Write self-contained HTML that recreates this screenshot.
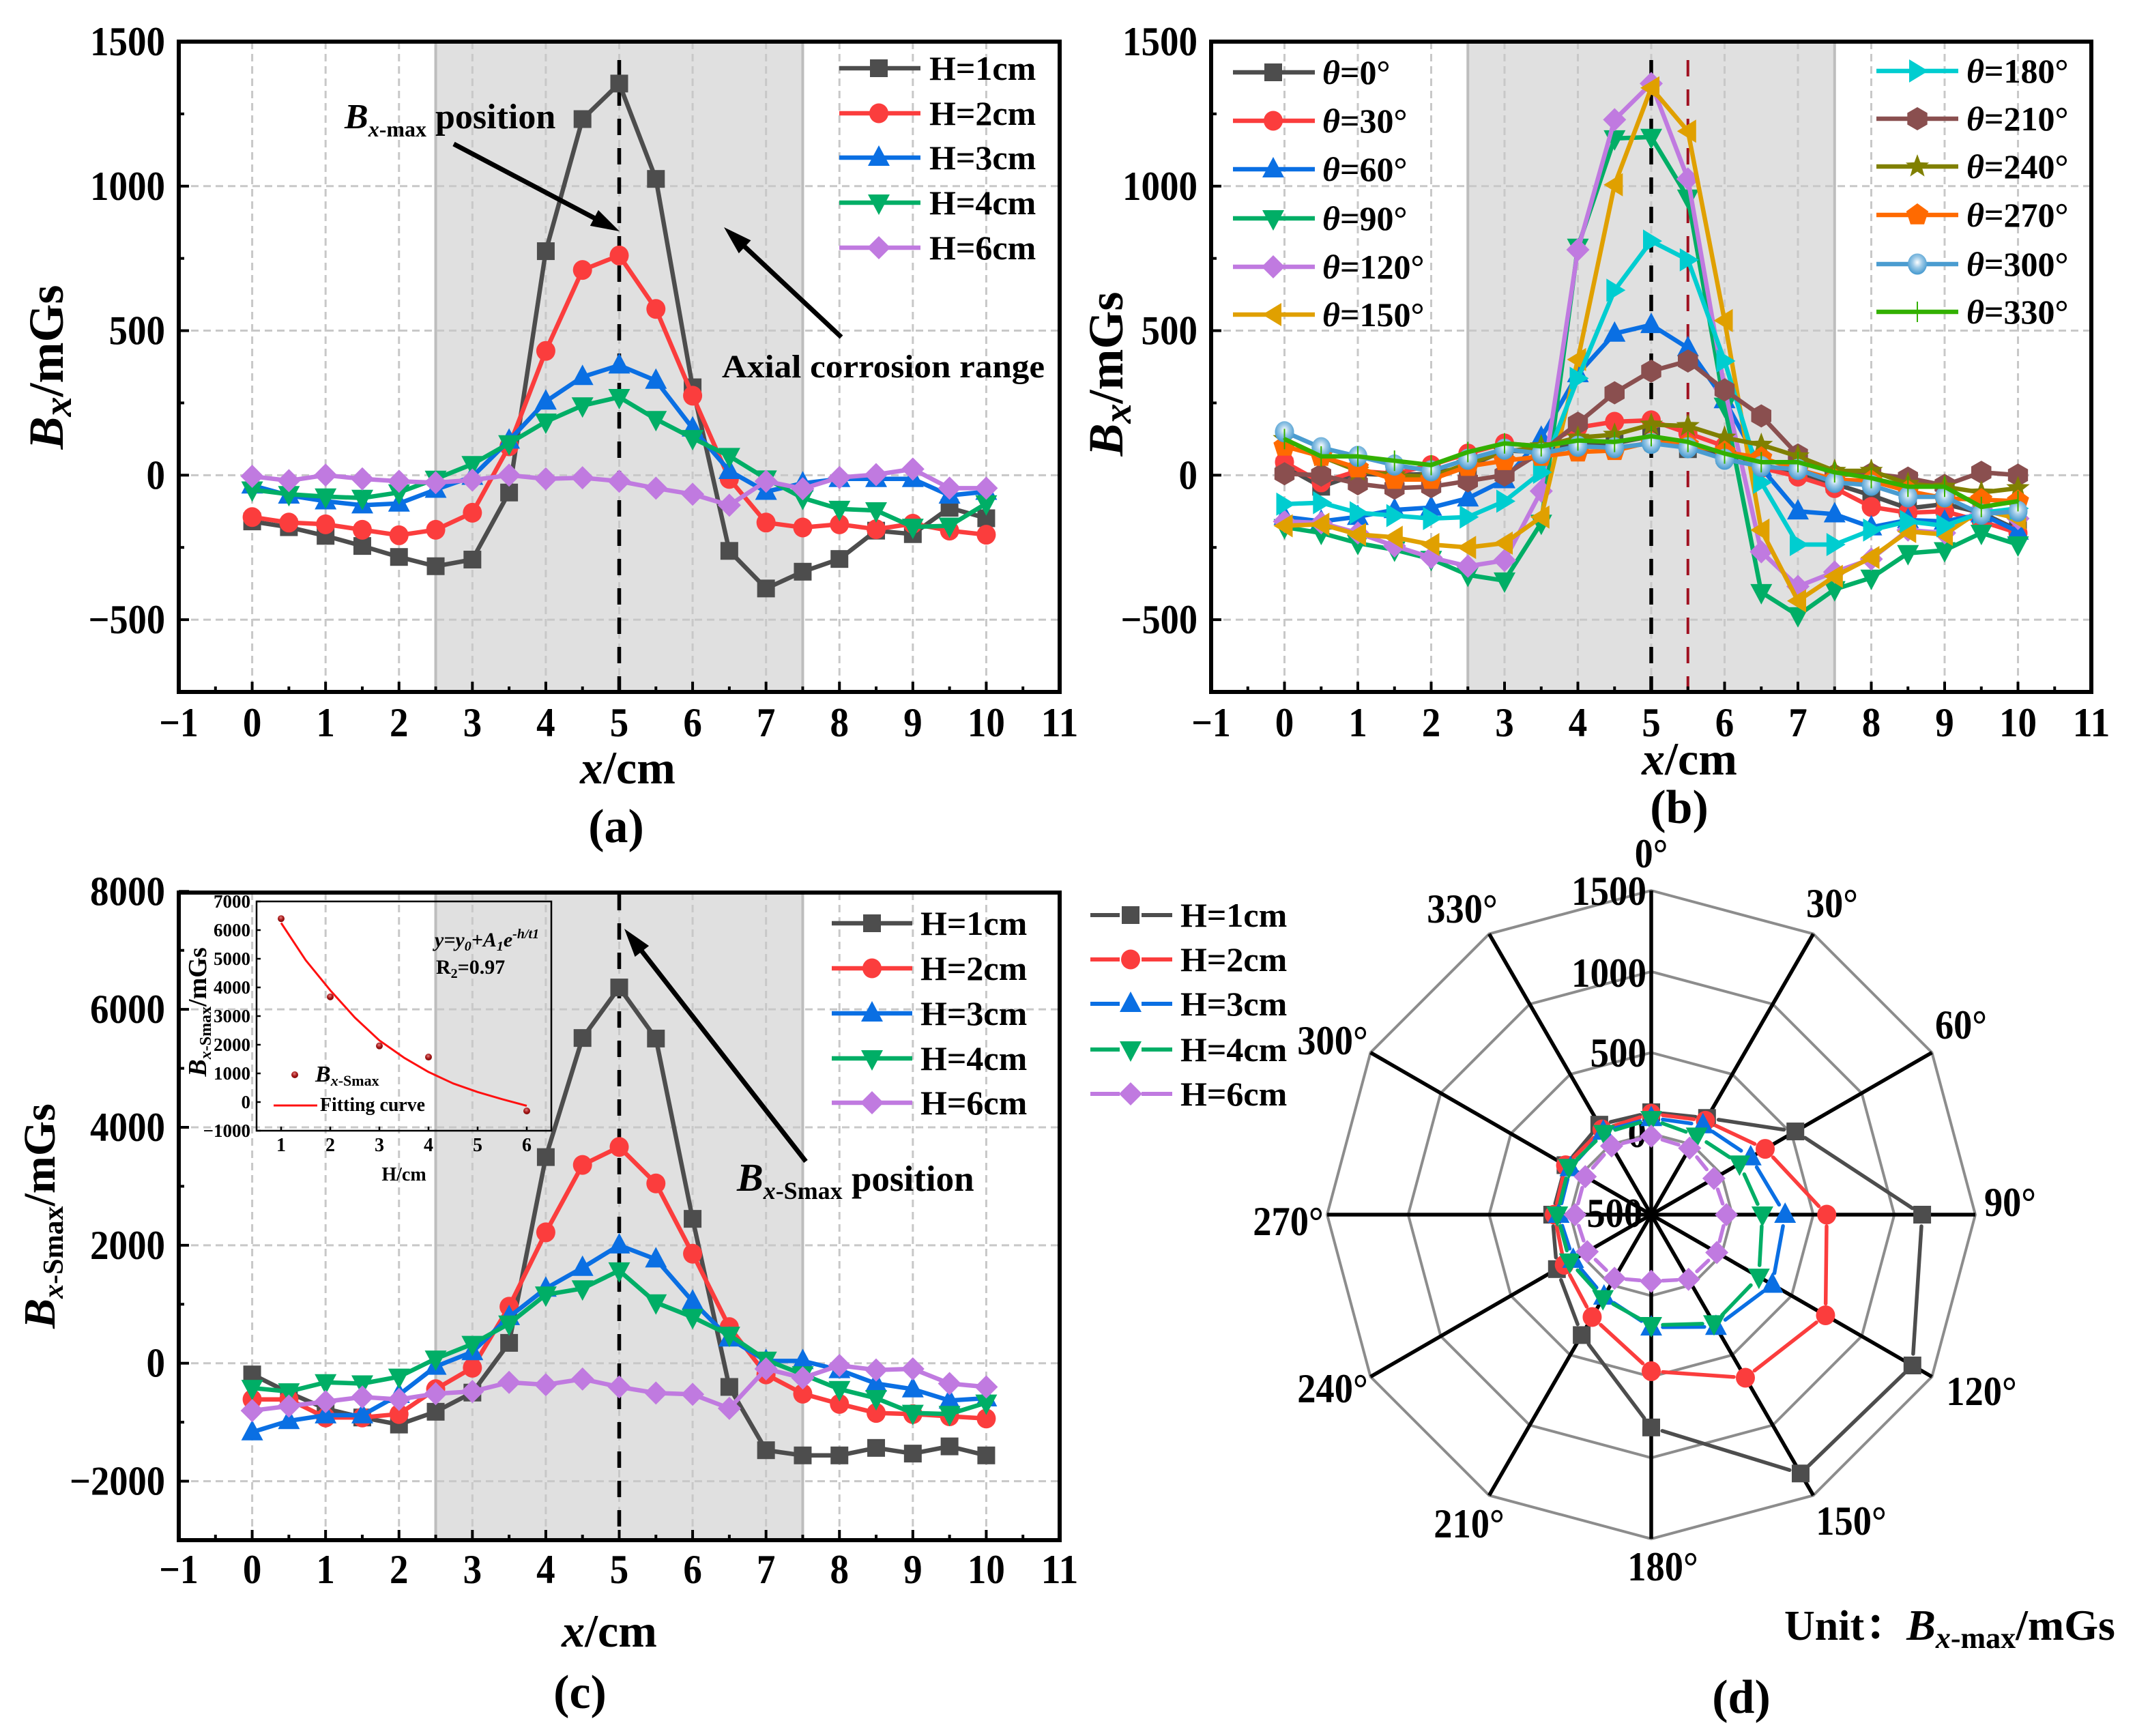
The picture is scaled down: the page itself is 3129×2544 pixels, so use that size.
<!DOCTYPE html>
<html lang="en">
<head>
<meta charset="utf-8">
<title>Magnetic flux density charts</title>
<style>
html,body{margin:0;padding:0;background:#fff;}
svg{display:block;}
text{font-family:"Liberation Serif","Noto Serif CJK SC",serif;font-weight:bold;fill:#000;}
.i{font-style:italic;}
</style>
</head>
<body>
<svg id="figure" xmlns="http://www.w3.org/2000/svg" width="3129" height="2544" viewBox="0 0 3129 2544">
<defs>
<radialGradient id="ball" cx="50%" cy="42%" r="55%"><stop offset="0" stop-color="#ffffff"/><stop offset="0.45" stop-color="#9fcbe8"/><stop offset="1" stop-color="#4a9cd0"/></radialGradient>
<radialGradient id="ball2" cx="45%" cy="35%" r="60%"><stop offset="0" stop-color="#e08080"/><stop offset="0.6" stop-color="#a81818"/><stop offset="1" stop-color="#800808"/></radialGradient>
</defs>
<g id="panel-a"></g>
<g id="panel-b"></g>
<g id="panel-c"></g>
<g id="panel-d"></g>

<g id="static-labels">
  <!-- panel a -->
  <text transform="translate(92 538) rotate(-90)" text-anchor="middle" font-size="72"><tspan class="i">B</tspan><tspan class="i" font-size="58" dy="12">x</tspan><tspan dy="-12">/mGs</tspan></text>
  <text x="920" y="1148" text-anchor="middle" font-size="68"><tspan class="i">x</tspan>/cm</text>
  <text x="903" y="1234" text-anchor="middle" font-size="70">(a)</text>
  <text x="505" y="188" font-size="52"><tspan class="i">B</tspan><tspan class="i" font-size="32" dy="12">x</tspan><tspan font-size="32">-max</tspan><tspan dy="-12"> position</tspan></text>
  <text x="1058" y="553" font-size="48" textLength="473" lengthAdjust="spacingAndGlyphs">Axial corrosion range</text>
  <!-- panel b -->
  <text transform="translate(1645 548) rotate(-90)" text-anchor="middle" font-size="72"><tspan class="i">B</tspan><tspan class="i" font-size="58" dy="12">x</tspan><tspan dy="-12">/mGs</tspan></text>
  <text x="2476" y="1135" text-anchor="middle" font-size="68"><tspan class="i">x</tspan>/cm</text>
  <text x="2461" y="1206" text-anchor="middle" font-size="70">(b)</text>
  <!-- panel c -->
  <text transform="translate(80 1782) rotate(-90)" text-anchor="middle" font-size="66"><tspan class="i">B</tspan><tspan class="i" font-size="42" dy="12">x</tspan><tspan font-size="42">-Smax</tspan><tspan dy="-12">/mGs</tspan></text>
  <text x="893" y="2413" text-anchor="middle" font-size="68"><tspan class="i">x</tspan>/cm</text>
  <text x="850" y="2503" text-anchor="middle" font-size="70">(c)</text>
  <text x="1080" y="1745" font-size="53"><tspan class="i" font-size="58">B</tspan><tspan class="i" font-size="36" dy="12">x</tspan><tspan font-size="36">-Smax</tspan><tspan dy="-12"> position</tspan></text>
  <!-- inset -->
  <text transform="translate(302 1483) rotate(-90)" text-anchor="middle" font-size="38"><tspan class="i">B</tspan><tspan class="i" font-size="24" dy="7">x</tspan><tspan font-size="24">-Smax</tspan><tspan dy="-7">/mGs</tspan></text>
  <text x="592" y="1730" text-anchor="middle" font-size="28">H/cm</text>
  <text x="462" y="1585" font-size="34"><tspan class="i">B</tspan><tspan class="i" font-size="22" dy="6">x</tspan><tspan font-size="22">-Smax</tspan></text>
  <text x="469" y="1628" font-size="28" textLength="154" lengthAdjust="spacingAndGlyphs">Fitting curve</text>
  <text x="637" y="1387" font-size="30" class="i">y=y<tspan font-size="20" dy="6">0</tspan><tspan dy="-6">+A</tspan><tspan font-size="20" dy="6">1</tspan><tspan dy="-6">e</tspan><tspan font-size="20" dy="-12">-h/t1</tspan></text>
  <text x="639" y="1427" font-size="30">R<tspan font-size="20" dy="6">2</tspan><tspan dy="-6">=0.97</tspan></text>
  <!-- panel d -->
  <text x="2615" y="2403" font-size="62">Unit：<tspan class="i" font-size="64">B</tspan><tspan class="i" font-size="44" dy="12">x</tspan><tspan font-size="44">-max</tspan><tspan font-size="64" dy="-12">/mGs</tspan></text>
  <text x="2552" y="2510" text-anchor="middle" font-size="70">(d)</text>
</g>
</svg>

<script>
// ---------- shared x positions ----------
const xValues = [0,0.5,1,1.5,2,2.5,3,3.5,4,4.5,5,5.5,6,6.5,7,7.5,8,8.5,9,9.5,10];
const xTickValues = [-1,0,1,2,3,4,5,6,7,8,9,10,11];
const xMinorTickValues = [-0.5,0.5,1.5,2.5,3.5,4.5,5.5,6.5,7.5,8.5,9.5,10.5];

// ---------- panel a ----------
const aNames = ["H=1cm","H=2cm","H=3cm","H=4cm","H=6cm"];
const aH1 = [-160,-180,-210,-245,-283,-315,-292,-60,775,1232,1355,1025,304,-262,-392,-334,-290,-192,-204,-113,-149];
const aH2 = [-145,-164,-170,-189,-208,-189,-130,100,430,710,760,575,275,-13,-164,-181,-170,-187,-168,-192,-206];
const aH3 = [-35,-70,-90,-104,-98,-50,-5,120,255,340,380,327,162,15,-57,-28,-13,-13,-13,-70,-57];
const aH4 = [-50,-66,-74,-79,-60,-13,38,110,185,241,270,194,128,66,-12,-79,-117,-122,-179,-175,-98];
const aH6 = [-4,-19,0,-13,-21,-26,-17,0,-13,-9,-21,-45,-66,-104,-21,-47,-8,2,21,-45,-45];
const aYTicks = [-500,0,500,1000,1500];
const aYMinorTicks = [-750,-250,250,750,1250];

// ---------- panel b ----------
const bNames = ["0°","30°","60°","90°","120°","150°","180°","210°","240°","270°","300°","330°"];
const bT0 = [30,-40,5,0,5,30,85,80,110,110,135,90,70,35,10,-30,-70,-115,-100,-130,-190];
const bT30 = [45,-25,15,5,35,75,110,100,165,185,190,145,100,25,-5,-45,-110,-130,-125,-160,-200];
const bT60 = [-144,-160,-144,-120,-112,-80,-17,130,350,490,520,440,260,25,-125,-135,-180,-155,-160,-135,-195];
const bT90 = [-180,-200,-235,-258,-290,-345,-365,-165,790,1165,1170,960,240,-405,-485,-395,-355,-270,-260,-200,-240];
const bT120 = [-160,-165,-200,-245,-285,-315,-295,-55,780,1230,1355,1025,300,-265,-385,-335,-290,-190,-200,-115,-150];
const bT150 = [-175,-170,-205,-215,-240,-250,-235,-145,400,1005,1340,1190,535,-190,-435,-350,-285,-195,-205,-120,-150];
const bT180 = [-100,-95,-130,-140,-150,-145,-90,10,335,640,810,745,395,-25,-240,-240,-190,-160,-175,-130,-115];
const bT210 = [5,0,-30,-45,-40,-20,0,80,180,285,360,395,295,205,70,0,5,-10,-35,10,0];
const bT240 = [125,65,15,0,-5,40,80,100,130,140,175,170,130,105,65,15,15,-30,-40,-60,-45];
const bT270 = [100,65,25,-15,-15,30,50,65,80,85,115,105,80,60,20,-15,-20,-55,-80,-85,-90];
const bT300 = [150,95,65,35,15,55,90,75,100,95,110,95,55,30,20,-25,-35,-75,-75,-135,-125];
const bT330 = [125,65,65,50,35,80,110,100,120,115,135,115,75,45,45,10,-10,-40,-40,-110,-90];

// ---------- panel c ----------
const cH1 = [-190,-500,-770,-920,-1040,-823,-498,345,3495,5514,6371,5505,2448,-402,-1475,-1563,-1563,-1436,-1532,-1410,-1563];
const cH2 = [-613,-613,-920,-920,-862,-440,-77,958,2219,3362,3667,3048,1857,613,-190,-517,-690,-843,-862,-900,-938];
const cH3 = [-1168,-977,-881,-881,-536,-57,191,785,1267,1619,2000,1762,1048,421,38,38,-115,-345,-440,-632,-594];
const cH4 = [-421,-479,-325,-345,-230,77,325,670,1162,1267,1571,1029,781,479,57,-190,-440,-594,-843,-862,-670];
const cH6 = [-804,-727,-651,-574,-613,-517,-479,-325,-364,-268,-402,-505,-528,-766,-96,-249,-38,-115,-96,-345,-402];
const cYTicks = [-2000,0,2000,4000,6000,8000];
const cYMinorTicks = [-3000,-1000,1000,3000,5000,7000];

// ---------- inset ----------
const insetHValues = [1,2,3,4,6];
const insetPeakValues = [6400,3670,1960,1570,-310];
const insetFitH = [1,1.5,2,2.5,3,3.5,4,4.5,5,5.5,6];
const insetFitValues = [6250,4950,3900,2950,2150,1550,1050,650,350,100,-130];
const insetXTicks = [1,2,3,4,5,6];
const insetYTicks = [-1000,0,1000,2000,3000,4000,5000,6000,7000];

// ---------- panel d ----------
const dAngles = [0,30,60,90,120,150,180,210,240,270,300,330];
const dRings = [0,500,1000,1500];
const dRadialLabels = ["1500","1000","500","0","−500"];
const dH1 = [132,189,527,1172,1361,1344,813,358,172,111,111,141];
const dH2 = [123,169,312,583,742,662,466,229,119,98,110,107];
const dH3 = [97,138,209,326,363,299,195,83,56,71,76,92];
const dH4 = [89,62,129,186,267,275,182,96,80,80,87,81];
const dH6 = [-16,-26,-53,-36,-33,-39,-89,-47,-44,-30,-30,-11];

// ---------- styles (not data) ----------
const GREY="#4d4d4d",RED="#fb3d3d",BLUE="#0a6fe3",GREEN="#00ae66",PURPLE="#c07ae0",
      GOLD="#e0a000",CYAN="#00cdd0",BROWN="#8a4f4f",OLIVE="#808000",ORANGE="#ff6a00",STEEL="#4a9cd0",LIME="#33b000";
const NS="http://www.w3.org/2000/svg";

function named(el,name,interactive){
  
  
  return el;
}
function mk(parent,tag,attrs,text){
  const el=document.createElementNS(NS,tag);
  for(const k in attrs){el.setAttribute(k,attrs[k]);}
  if(text!==undefined){el.textContent=text;}
  parent.appendChild(el);
  return el;
}
function tallLabel(parent,x,y,anchor,str){
  let w=0;
  for(const ch of str){w+= ch==='−'?30:(ch==='°'?21:27.5);}
  return mk(parent,'text',{x:x,y:y,'text-anchor':anchor,'font-size':60,textLength:w,lengthAdjust:'spacingAndGlyphs'},str);
}
function line(p,x1,y1,x2,y2,stroke,w,extra){
  return mk(p,'line',Object.assign({x1:x1,y1:y1,x2:x2,y2:y2,stroke:stroke,'stroke-width':w},extra||{}));
}
function poly(p,pts,fill){
  return mk(p,'polygon',{points:pts.map(function(q){return q[0].toFixed(1)+','+q[1].toFixed(1);}).join(' '),fill:fill});
}
function regular(cx,cy,r,n,rot){
  const o=[];
  for(let i=0;i<n;i++){const a=(rot+i*360/n)*Math.PI/180;o.push([cx+r*Math.sin(a),cy-r*Math.cos(a)]);}
  return o;
}
function drawMarker(p,kind,x,y,color,name){
  let el;
  if(kind==='square'){el=mk(p,'rect',{x:x-13,y:y-13,width:26,height:26,fill:color});}
  else if(kind==='circle'){el=mk(p,'ellipse',{cx:x,cy:y,rx:14,ry:14.5,fill:color});}
  else if(kind==='up'){el=poly(p,[[x,y-18],[x+16,y+12],[x-16,y+12]],color);}
  else if(kind==='down'){el=poly(p,[[x,y+18],[x+16,y-12],[x-16,y-12]],color);}
  else if(kind==='diamond'){el=poly(p,[[x,y-17],[x+17,y],[x,y+17],[x-17,y]],color);}
  else if(kind==='left'){el=poly(p,[[x-16,y],[x+12,y-17],[x+12,y+17]],color);}
  else if(kind==='right'){el=poly(p,[[x+16,y],[x-12,y-17],[x-12,y+17]],color);}
  else if(kind==='hex'){el=poly(p,regular(x,y,17,6,0),color);}
  else if(kind==='penta'){el=poly(p,regular(x,y,17,5,0),color);}
  else if(kind==='star'){
    const o=regular(x,y,18,5,0),q=regular(x,y,7.5,5,36),s=[];
    for(let i=0;i<5;i++){s.push(o[i]);s.push(q[i]);}
    el=poly(p,s,color);
  }
  else if(kind==='ball'){el=mk(p,'ellipse',{cx:x,cy:y,rx:14,ry:15.5,fill:'url(#ball)'});}
  else{el=mk(p,'g',{});line(el,x,y-15,x,y+15,color,2);line(el,x-2,y,x+2,y,color,2);}
  named(el,name,false);
  return el;
}
function arrow(p,x1,y1,x2,y2,name){
  const g=mk(p,'g',{});
  named(g,name,false);
  const dx=x2-x1,dy=y2-y1,l=Math.hypot(dx,dy),ux=dx/l,uy=dy/l,h=42,w=13;
  line(g,x1,y1,x2-ux*h*0.8,y2-uy*h*0.8,'#000',7);
  poly(g,[[x2,y2],[x2-ux*h-uy*w,y2-uy*h+ux*w],[x2-ux*h+uy*w,y2-uy*h-ux*w]],'#000');
}

function cartesian(id,prefix,box,xDom,yDom,yTicks,yMinor,labelRight,xLabelBase){
  const root=document.getElementById(id);
  const xs=function(v){return box.l+(v-xDom[0])/(xDom[1]-xDom[0])*(box.r-box.l);};
  const ys=function(v){return box.b-(v-yDom[0])/(yDom[1]-yDom[0])*(box.b-box.t);};
  const bg=mk(root,'g',{});
  named(bg,prefix+'-plot-background',false);
  // shaded corrosion range
  const sh=mk(bg,'rect',{x:xs(2.5),y:box.t,width:xs(7.5)-xs(2.5),height:box.b-box.t,fill:'#e0e0e0'});
  named(sh,prefix+'-corrosion-range-band',false);
  line(bg,xs(2.5),box.t,xs(2.5),box.b,'#bdbdbd',4);
  line(bg,xs(7.5),box.t,xs(7.5),box.b,'#bdbdbd',4);
  // grid
  const grid=mk(root,'g',{});
  named(grid,prefix+'-grid',false);
  xTickValues.forEach(function(v){
    if(v>xDom[0]&&v<xDom[1]){line(grid,xs(v),box.t,xs(v),box.b,'#c8c8c8',3,{'stroke-dasharray':'11 7'});}
  });
  yTicks.forEach(function(v){
    if(v>yDom[0]&&v<yDom[1]){line(grid,box.l,ys(v),box.r,ys(v),'#c8c8c8',3,{'stroke-dasharray':'11 7'});}
  });
  return {root:root,xs:xs,ys:ys,box:box,finish:function(){
    const ax=mk(root,'g',{});
    named(ax,prefix+'-axes',false);
    const f=mk(ax,'rect',{x:box.l,y:box.t,width:box.r-box.l,height:box.b-box.t,fill:'none',stroke:'#000','stroke-width':6});
    named(f,prefix+'-plot-frame',false);
    xTickValues.forEach(function(v){
      line(ax,xs(v),box.b,xs(v),box.b-15,'#000',4);
      const t=tallLabel(ax,xs(v),xLabelBase,'middle',v<0?'−'+Math.abs(v):String(v));
      named(t,prefix+'-x-tick-label',false);
    });
    xMinorTickValues.forEach(function(v){line(ax,xs(v),box.b,xs(v),box.b-8,'#000',4);});
    yTicks.forEach(function(v){
      line(ax,box.l,ys(v),box.l+15,ys(v),'#000',4);
      const t=tallLabel(ax,labelRight,ys(v)+20,'end',v<0?'−'+Math.abs(v):String(v));
      named(t,prefix+'-y-tick-label',false);
    });
    yMinor.forEach(function(v){line(ax,box.l,ys(v),box.l+8,ys(v),'#000',4);});
  }};
}
function vDash(c,x,top,color,w,dash,name){
  const l=line(c.root,c.xs(x),top,c.xs(x),c.box.b,color,w,{'stroke-dasharray':dash});
  named(l,name,false);
}
function series(c,prefix,key,vals,color,kind,lw){
  const g=mk(c.root,'g',{});
  named(g,prefix+'-series-'+key,false);
  const pts=xValues.map(function(x,i){return c.xs(x).toFixed(1)+','+c.ys(vals[i]).toFixed(1);}).join(' ');
  const pl=mk(g,'polyline',{points:pts,fill:'none',stroke:color,'stroke-width':lw||6.5,'stroke-linejoin':'round'});
  named(pl,prefix+'-line-'+key,false);
  xValues.forEach(function(x,i){drawMarker(g,kind,c.xs(x),c.ys(vals[i]),color,prefix+'-point-'+key);});
}
function legendEntry(parent,prefix,x1,x2,mx,y,color,kind,label,tx,theta,gap,lw){
  const g=mk(parent,'g',{});
  named(g,prefix+'-legend-entry',false);
  if(gap){line(g,x1,y,mx-gap,y,color,lw||5);line(g,mx+gap,y,x2,y,color,lw||5);}
  else{line(g,x1,y,x2,y,color,lw||6.5);}
  drawMarker(g,kind,mx,y,color,prefix+'-legend-marker');
  const t=mk(g,'text',{x:tx,y:y+17,'font-size':50});
  named(t,prefix+'-legend-label',false);
  if(theta){mk(t,'tspan',{class:'i'},'θ');mk(t,'tspan',{},'='+label);}
  else{t.textContent=label;}
}

// ========== PANEL A ==========
const cA=cartesian('panel-a','a',{l:262,r:1553,t:61,b:1014},[-1,11],[-750,1500],aYTicks,aYMinorTicks,242,1079);
vDash(cA,5,88,'#000',5.5,'24 19','a-peak-position-line');
[aH1,aH2,aH3,aH4,aH6].forEach(function(v,i){
  series(cA,'a',['h1','h2','h3','h4','h6'][i],v,[GREY,RED,BLUE,GREEN,PURPLE][i],['square','circle','up','down','diamond'][i]);
});
cA.finish();
arrow(cA.root,665,211,908,339,'a-bxmax-arrow');
arrow(cA.root,1233,494,1061,333,'a-corrosion-arrow');
const legA=mk(cA.root,'g',{});
named(legA,'a-legend',false);
[100,166,231,297,363].forEach(function(y,i){
  legendEntry(legA,'a',1230,1349,1288,y,[GREY,RED,BLUE,GREEN,PURPLE][i],['square','circle','up','down','diamond'][i],aNames[i],1362);
});

// ========== PANEL B ==========
const cB=cartesian('panel-b','b',{l:1775,r:3065,t:61,b:1014},[-1,11],[-750,1500],aYTicks,aYMinorTicks,1755,1079);
vDash(cB,5,88,'#000',5.5,'24 19','b-peak-position-line');
vDash(cB,5.5,88,'#a01020',4,'24 19','b-offset-peak-line');
const bKinds=['square','circle','up','down','diamond','left','right','hex','star','penta','ball','plus'];
const bColors=[GREY,RED,BLUE,GREEN,PURPLE,GOLD,CYAN,BROWN,OLIVE,ORANGE,STEEL,LIME];
[bT0,bT30,bT60,bT90,bT120,bT150,bT180,bT210,bT240,bT270,bT300,bT330].forEach(function(v,i){
  series(cB,'b','theta-'+dAngles[i],v,bColors[i],bKinds[i]);
});
cB.finish();
const legB=mk(cB.root,'g',{});
named(legB,'b-legend',false);
[106,177,248,320,391,461].forEach(function(y,i){
  legendEntry(legB,'b',1807,1927,1866,y,bColors[i],bKinds[i],bNames[i],1938,true);
});
[104,174,244,315,387,457].forEach(function(y,i){
  legendEntry(legB,'b',2750,2870,2810,y,bColors[i+6],bKinds[i+6],bNames[i+6],2882,true);
});

// ========== PANEL C ==========
const cC=cartesian('panel-c','c',{l:262,r:1553,t:1308,b:2257},[-1,11],[-3000,7980],cYTicks,cYMinorTicks,242,2320);
vDash(cC,5,1310,'#000',5.5,'24 19','c-peak-position-line');
[cH1,cH2,cH3,cH4,cH6].forEach(function(v,i){
  series(cC,'c',['h1','h2','h3','h4','h6'][i],v,[GREY,RED,BLUE,GREEN,PURPLE][i],['square','circle','up','down','diamond'][i]);
});
cC.finish();
arrow(cC.root,1181,1702,915,1361,'c-bsmax-arrow');
const legC=mk(cC.root,'g',{});
named(legC,'c-legend',false);
[1353,1419,1485,1551,1616].forEach(function(y,i){
  legendEntry(legC,'c',1219,1337,1278,y,[GREY,RED,BLUE,GREEN,PURPLE][i],['square','circle','up','down','diamond'][i],aNames[i],1349);
});

// inset
(function(){
  const box={l:376,r:808,t:1321,b:1657};
  const ix=function(v){return box.l+(v-0.5)/6*(box.r-box.l);};
  const iy=function(v){return box.b-(v+1000)/8000*(box.b-box.t);};
  const g=mk(document.getElementById('panel-c'),'g',{});
  named(g,'inset-chart',false);
  const fr=mk(g,'rect',{x:box.l,y:box.t,width:box.r-box.l,height:box.b-box.t,fill:'none',stroke:'#000','stroke-width':2.5});
  named(fr,'inset-frame',false);
  insetXTicks.forEach(function(v){
    line(g,ix(v),box.b,ix(v),box.b-6,'#000',2.5);
    const t=mk(g,'text',{x:ix(v),y:1687,'text-anchor':'middle','font-size':28},String(v));
    named(t,'inset-x-tick-label',false);
  });
  insetYTicks.forEach(function(v){
    line(g,box.l,iy(v),box.l+6,iy(v),'#000',2.5);
    const t=mk(g,'text',{x:367,y:iy(v)+9,'text-anchor':'end','font-size':27},v<0?'−'+Math.abs(v):String(v));
    named(t,'inset-y-tick-label',false);
  });
  const fit=mk(g,'polyline',{points:insetFitH.map(function(h,i){return ix(h).toFixed(1)+','+iy(insetFitValues[i]).toFixed(1);}).join(' '),fill:'none',stroke:'#ff1010','stroke-width':3,'stroke-linejoin':'round'});
  named(fit,'inset-fitting-curve',false);
  insetHValues.forEach(function(h,i){
    const c=mk(g,'circle',{cx:ix(h),cy:iy(insetPeakValues[i]),r:5,fill:'url(#ball2)'});
    named(c,'inset-point',false);
  });
  const lp=mk(g,'circle',{cx:432,cy:1575,r:5,fill:'url(#ball2)'});
  named(lp,'inset-legend-point',false);
  const ll=line(g,401,1620,465,1620,'#ff1010',3);
  named(ll,'inset-legend-line',false);
})();

// ========== PANEL D ==========
(function(){
  const root=document.getElementById('panel-d');
  const cx=2420,cy=1780,R=475;
  const pt=function(a,v){
    const r=(v+500)/2000*R,t=a*Math.PI/180;
    return [cx+r*Math.sin(t),cy-r*Math.cos(t)];
  };
  const grid=mk(root,'g',{});
  named(grid,'d-radar-grid',false);
  dRings.forEach(function(v){
    const pl=mk(grid,'polygon',{points:dAngles.map(function(a){const q=pt(a,v);return q[0].toFixed(1)+','+q[1].toFixed(1);}).join(' '),fill:'none',stroke:'#8c8c8c','stroke-width':4});
    named(pl,'d-ring-'+v,false);
  });
  dAngles.forEach(function(a){
    const q=pt(a,1500);
    const s=line(grid,cx,cy,q[0],q[1],'#000',5.5);
    named(s,'d-spoke-'+a,false);
  });
  const radial=[[2413,1326],[2413,1446],[2413,1563],[2413,1681],[2407,1798]];
  radial.forEach(function(p,i){
    const t=tallLabel(root,p[0],p[1],'end',dRadialLabels[i]);
    named(t,'d-radial-tick-label',false);
  });
  const angPos=[[2420,1251],[2685,1324],[2874,1502],[2946,1762],[2904,2039],[2713,2229],[2437,2296],[2153,2233],[1953,2035],[1888,1790],[1953,1525],[2143,1332]];
  dAngles.forEach(function(a,i){
    const t=tallLabel(root,angPos[i][0],angPos[i][1]+20,'middle',a+'°');
    named(t,'d-angle-label',false);
  });
  const keys=['h1','h2','h3','h4','h6'],cols=[GREY,RED,BLUE,GREEN,PURPLE],kinds=['square','circle','up','down','diamond'];
  [dH1,dH2,dH3,dH4,dH6].forEach(function(vals,si){
    const g=mk(root,'g',{});
    named(g,'d-series-'+keys[si],false);
    const gap=17;
    vals.forEach(function(v,i){
      const a=pt(dAngles[i],v),b=pt(dAngles[(i+1)%vals.length],vals[(i+1)%vals.length]);
      const dx=b[0]-a[0],dy=b[1]-a[1],l=Math.hypot(dx,dy);
      if(l>2*gap+2){
        const ux=dx/l,uy=dy/l;
        const s=line(g,a[0]+ux*gap,a[1]+uy*gap,b[0]-ux*gap,b[1]-uy*gap,cols[si],5.5,{'stroke-linecap':'round'});
        named(s,'d-line-'+keys[si],false);
      }
    });
    vals.forEach(function(v,i){
      const q=pt(dAngles[i],v);
      drawMarker(g,kinds[si],q[0],q[1],cols[si],'d-point-'+keys[si]);
    });
  });
  const leg=mk(root,'g',{});
  named(leg,'d-legend',false);
  [1341,1406,1471,1538,1603].forEach(function(y,i){
    legendEntry(leg,'d',1598,1718,1657,y,cols[i],kinds[i],aNames[i],1730,false,16,6);
  });
})();
</script>
</body>
</html>
